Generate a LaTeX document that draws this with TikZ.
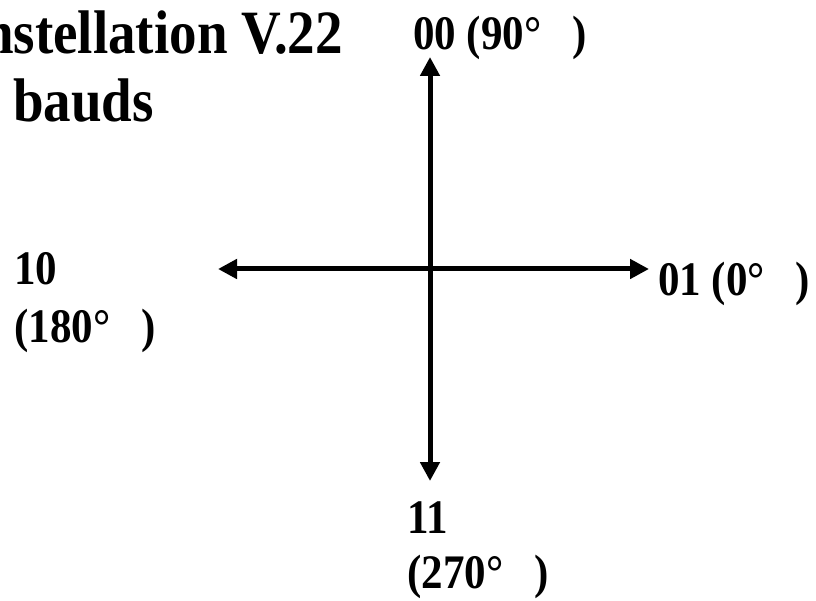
\documentclass[tikz,border=0pt]{standalone}
\usepackage{fontspec}
\setmainfont{Liberation Serif}
\usetikzlibrary{arrows.meta}
\newcommand{\tall}[1]{\scalebox{1}[1.12]{#1}}
\newcommand{\dg}{°\hspace{0.72em}}
\begin{document}
\begin{tikzpicture}[x=1pt,y=-1pt,
  lbl/.style={font=\fontsize{43}{48}\selectfont\bfseries, inner sep=0pt, anchor=base west},
  ttl/.style={font=\fontsize{55}{60}\selectfont\bfseries, inner sep=0pt},
  axis/.style={line width=5pt, {Triangle[length=19pt,width=19pt]}-{Triangle[length=19pt,width=19pt]}}]
\useasboundingbox (0,0) rectangle (816,601);
\clip (0,0) rectangle (816,601);
\node[ttl,anchor=base east] (t1) at (343,54) {\tall{nstellation V.22}};
\node[ttl,anchor=base west] (t2) at (13,122) {\tall{bauds}};
\coordinate (top) at (430,57);
\coordinate (bot) at (430,481);
\coordinate (lft) at (218,269);
\coordinate (rgt) at (649,269);
\draw[axis] (bot) -- (top);
\draw[axis] (lft) -- (rgt);
\node[lbl] (n00) at (413,50) {\tall{00 (90\dg)}};
\node[lbl] (n01) at (658,296) {\tall{01 (0\dg)}};
\node[lbl] (n10a) at (14,285) {\tall{10}};
\node[lbl] (n10b) at (14,342) {\tall{(180\dg)}};
\node[lbl] (n11a) at (407,533) {\tall{11}};
\node[lbl] (n11b) at (407,588) {\tall{(270\dg)}};
\end{tikzpicture}
\end{document}
